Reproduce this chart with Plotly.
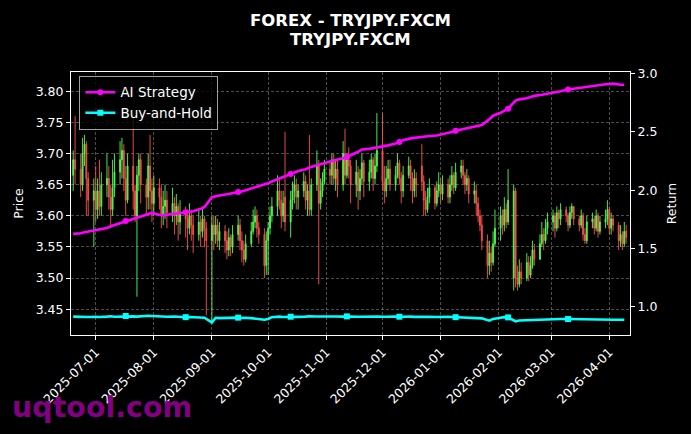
import pandas as pd
import plotly.graph_objects as go

# ---- data, one line per month ----
opens = [3.665, 3.690, 3.675, 3.650, 3.700, 3.715, 3.660, 3.625,
         3.640, 3.610, 3.640, 3.615, 3.650, 3.660, 3.630, 3.610, 3.645, 3.670, 3.690, 3.705, 3.660, 3.625, 3.680, 3.640, 3.600, 3.665, 3.690, 3.650, 3.630, 3.680, 3.640,
         3.620, 3.645, 3.630, 3.600, 3.615, 3.625, 3.605, 3.620, 3.600, 3.615, 3.590, 3.605, 3.595, 3.580, 3.600, 3.585, 3.570, 3.590, 3.575, 3.595, 3.580,
         3.560, 3.585, 3.570, 3.585, 3.560, 3.575, 3.560, 3.545, 3.565, 3.550, 3.570, 3.585, 3.560, 3.545, 3.530, 3.555, 3.575, 3.590, 3.600, 3.580, 3.570, 3.520,
         3.560, 3.580, 3.600, 3.615, 3.640, 3.625, 3.600, 3.630, 3.590, 3.625, 3.640, 3.650, 3.630, 3.640, 3.655, 3.625, 3.640, 3.610, 3.650, 3.680, 3.620, 3.640, 3.655,
         3.675, 3.665, 3.690, 3.660, 3.675, 3.650, 3.700, 3.665, 3.690, 3.680, 3.650, 3.670, 3.640, 3.660, 3.685, 3.655, 3.670, 3.690, 3.660, 3.680,
         3.705, 3.655, 3.640, 3.660, 3.675, 3.650, 3.665, 3.685, 3.660, 3.640, 3.665, 3.680, 3.660, 3.640, 3.660, 3.680, 3.655, 3.625, 3.610, 3.630, 3.645, 3.620, 3.640,
         3.650, 3.635, 3.650, 3.630, 3.650, 3.665, 3.645, 3.670, 3.680, 3.665, 3.650, 3.660, 3.635, 3.640, 3.620, 3.600, 3.585, 3.560, 3.520, 3.540, 3.525, 3.555,
         3.580, 3.600, 3.585, 3.610, 3.590, 3.500, 3.640, 3.500, 3.490, 3.510, 3.500, 3.525, 3.505, 3.520, 3.545, 3.530, 3.555, 3.570, 3.560, 3.580,
         3.590, 3.600, 3.580, 3.605, 3.595, 3.610, 3.600, 3.585, 3.605, 3.615, 3.595, 3.585, 3.600, 3.570, 3.560, 3.590, 3.595, 3.580, 3.600, 3.575, 3.590, 3.595,
         3.610, 3.580, 3.595, 3.585, 3.560, 3.570, 3.555, 3.575]
highs = [3.705, 3.760, 3.700, 3.725, 3.730, 3.720, 3.670, 3.660,
         3.680, 3.660, 3.690, 3.670, 3.700, 3.680, 3.650, 3.690, 3.700, 3.720, 3.725, 3.715, 3.680, 3.700, 3.765, 3.650, 3.680, 3.700, 3.700, 3.660, 3.700, 3.730, 3.660,
         3.665, 3.660, 3.650, 3.640, 3.650, 3.640, 3.645, 3.630, 3.635, 3.620, 3.625, 3.615, 3.610, 3.620, 3.610, 3.600, 3.610, 3.600, 3.615, 3.600, 3.590,
         3.600, 3.600, 3.600, 3.595, 3.590, 3.585, 3.575, 3.580, 3.570, 3.585, 3.600, 3.595, 3.575, 3.560, 3.570, 3.590, 3.610, 3.615, 3.610, 3.590, 3.580, 3.575,
         3.590, 3.615, 3.630, 3.665, 3.660, 3.640, 3.640, 3.735, 3.640, 3.655, 3.665, 3.660, 3.650, 3.670, 3.665, 3.650, 3.730, 3.660, 3.705, 3.690, 3.660, 3.670, 3.690,
         3.690, 3.700, 3.700, 3.690, 3.690, 3.720, 3.740, 3.700, 3.710, 3.690, 3.690, 3.680, 3.675, 3.700, 3.690, 3.690, 3.700, 3.695, 3.700, 3.765,
         3.765, 3.680, 3.680, 3.690, 3.690, 3.680, 3.700, 3.690, 3.670, 3.680, 3.695, 3.690, 3.670, 3.675, 3.670, 3.715, 3.665, 3.640, 3.645, 3.660, 3.650, 3.655, 3.670,
         3.660, 3.665, 3.660, 3.665, 3.680, 3.670, 3.685, 3.690, 3.690, 3.670, 3.675, 3.665, 3.655, 3.650, 3.630, 3.610, 3.600, 3.570, 3.560, 3.550, 3.575, 3.610,
         3.615, 3.610, 3.630, 3.620, 3.675, 3.650, 3.645, 3.520, 3.530, 3.525, 3.540, 3.535, 3.535, 3.560, 3.555, 3.570, 3.590, 3.580, 3.595, 3.605,
         3.610, 3.605, 3.615, 3.610, 3.620, 3.615, 3.605, 3.615, 3.620, 3.615, 3.600, 3.610, 3.605, 3.580, 3.600, 3.605, 3.600, 3.610, 3.605, 3.600, 3.610, 3.625,
         3.615, 3.605, 3.600, 3.590, 3.585, 3.575, 3.590, 3.585]
lows = [3.640, 3.650, 3.630, 3.640, 3.680, 3.600, 3.600, 3.550,
        3.590, 3.595, 3.600, 3.600, 3.630, 3.610, 3.580, 3.600, 3.630, 3.650, 3.660, 3.640, 3.600, 3.620, 3.610, 3.590, 3.470, 3.640, 3.620, 3.600, 3.610, 3.610, 3.590,
        3.600, 3.610, 3.580, 3.585, 3.595, 3.580, 3.590, 3.570, 3.585, 3.560, 3.570, 3.565, 3.545, 3.570, 3.560, 3.540, 3.560, 3.550, 3.565, 3.550, 3.440,
        3.428, 3.545, 3.555, 3.550, 3.545, 3.540, 3.530, 3.535, 3.535, 3.540, 3.560, 3.545, 3.525, 3.520, 3.525, 3.550, 3.570, 3.580, 3.565, 3.555, 3.500, 3.505,
        3.505, 3.570, 3.590, 3.600, 3.610, 3.580, 3.590, 3.575, 3.565, 3.610, 3.620, 3.610, 3.610, 3.630, 3.610, 3.600, 3.600, 3.600, 3.640, 3.490, 3.610, 3.630, 3.650,
        3.650, 3.650, 3.650, 3.640, 3.630, 3.640, 3.650, 3.660, 3.660, 3.620, 3.630, 3.610, 3.625, 3.650, 3.630, 3.640, 3.660, 3.640, 3.650, 3.670,
        3.640, 3.620, 3.630, 3.650, 3.640, 3.640, 3.660, 3.650, 3.620, 3.630, 3.660, 3.640, 3.620, 3.630, 3.630, 3.640, 3.600, 3.600, 3.605, 3.620, 3.610, 3.615, 3.630,
        3.620, 3.625, 3.620, 3.620, 3.640, 3.635, 3.640, 3.660, 3.650, 3.635, 3.640, 3.620, 3.620, 3.600, 3.590, 3.575, 3.545, 3.500, 3.505, 3.510, 3.520, 3.550,
        3.560, 3.570, 3.575, 3.580, 3.585, 3.480, 3.485, 3.480, 3.485, 3.490, 3.495, 3.495, 3.500, 3.515, 3.520, 3.535, 3.550, 3.545, 3.555, 3.570,
        3.575, 3.565, 3.575, 3.580, 3.585, 3.590, 3.575, 3.580, 3.595, 3.585, 3.575, 3.580, 3.560, 3.555, 3.555, 3.580, 3.570, 3.575, 3.565, 3.570, 3.580, 3.585,
        3.570, 3.570, 3.575, 3.545, 3.550, 3.545, 3.550, 3.555]
closes = [3.690, 3.675, 3.650, 3.700, 3.715, 3.660, 3.625, 3.640,
          3.610, 3.640, 3.615, 3.650, 3.660, 3.630, 3.610, 3.645, 3.670, 3.690, 3.705, 3.660, 3.625, 3.680, 3.640, 3.600, 3.665, 3.690, 3.650, 3.630, 3.680, 3.640, 3.620,
          3.645, 3.630, 3.600, 3.615, 3.625, 3.605, 3.620, 3.600, 3.615, 3.590, 3.605, 3.595, 3.580, 3.600, 3.585, 3.570, 3.590, 3.575, 3.595, 3.580, 3.560,
          3.585, 3.570, 3.585, 3.560, 3.575, 3.560, 3.545, 3.565, 3.550, 3.570, 3.585, 3.560, 3.545, 3.530, 3.555, 3.575, 3.590, 3.600, 3.580, 3.570, 3.520, 3.560,
          3.580, 3.600, 3.615, 3.640, 3.625, 3.600, 3.620, 3.590, 3.625, 3.640, 3.650, 3.630, 3.640, 3.655, 3.625, 3.640, 3.610, 3.650, 3.680, 3.620, 3.640, 3.655, 3.675,
          3.665, 3.690, 3.660, 3.675, 3.650, 3.700, 3.665, 3.690, 3.680, 3.650, 3.670, 3.640, 3.660, 3.685, 3.655, 3.670, 3.690, 3.660, 3.680, 3.705,
          3.655, 3.640, 3.660, 3.675, 3.650, 3.665, 3.685, 3.660, 3.640, 3.665, 3.680, 3.660, 3.640, 3.660, 3.650, 3.655, 3.625, 3.610, 3.630, 3.645, 3.620, 3.640, 3.650,
          3.635, 3.650, 3.630, 3.650, 3.665, 3.645, 3.670, 3.680, 3.665, 3.650, 3.660, 3.635, 3.640, 3.620, 3.600, 3.585, 3.560, 3.520, 3.540, 3.525, 3.555, 3.580,
          3.600, 3.585, 3.610, 3.590, 3.625, 3.640, 3.500, 3.490, 3.510, 3.500, 3.525, 3.505, 3.520, 3.545, 3.530, 3.555, 3.570, 3.560, 3.580, 3.590,
          3.600, 3.580, 3.605, 3.595, 3.610, 3.600, 3.585, 3.605, 3.615, 3.595, 3.585, 3.600, 3.570, 3.560, 3.590, 3.595, 3.580, 3.600, 3.575, 3.590, 3.595, 3.610,
          3.580, 3.595, 3.585, 3.560, 3.570, 3.555, 3.575, 3.565]

# return curves, one value every second business day
strategy = [1.625, 1.630, 1.640, 1.645, 1.655, 1.660, 1.675, 1.690, 1.700, 1.720,
            1.735, 1.750, 1.760, 1.770, 1.790, 1.805, 1.790, 1.785, 1.790, 1.800,
            1.805, 1.810, 1.815, 1.820, 1.840, 1.855, 1.940, 1.950, 1.955, 1.965,
            1.970, 1.985, 1.990, 2.000, 2.020, 2.030, 2.045, 2.060, 2.075, 2.100,
            2.115, 2.140, 2.150, 2.165, 2.180, 2.195, 2.215, 2.225, 2.235, 2.250,
            2.260, 2.275, 2.285, 2.300, 2.330, 2.350, 2.355, 2.360, 2.370, 2.375,
            2.385, 2.400, 2.415, 2.430, 2.445, 2.450, 2.455, 2.460, 2.465, 2.470,
            2.476, 2.490, 2.500, 2.510, 2.525, 2.530, 2.545, 2.550, 2.560, 2.610,
            2.640, 2.665, 2.685, 2.700, 2.770, 2.780, 2.790, 2.800, 2.810, 2.820,
            2.825, 2.835, 2.840, 2.850, 2.865, 2.870, 2.880, 2.885, 2.890, 2.895,
            2.900, 2.910, 2.912, 2.915, 2.905, 2.905]
buy_hold = [0.915, 0.912, 0.910, 0.912, 0.914, 0.912, 0.915, 0.918, 0.914, 0.916,
            0.920, 0.917, 0.915, 0.918, 0.922, 0.920, 0.915, 0.912, 0.914, 0.916,
            0.913, 0.910, 0.912, 0.910, 0.908, 0.905, 0.865, 0.905, 0.902, 0.905,
            0.904, 0.906, 0.903, 0.905, 0.900, 0.895, 0.888, 0.895, 0.910, 0.915,
            0.912, 0.914, 0.916, 0.913, 0.915, 0.918, 0.916, 0.917, 0.915, 0.914,
            0.916, 0.915, 0.917, 0.916, 0.914, 0.915, 0.917, 0.916, 0.915, 0.914,
            0.916, 0.915, 0.914, 0.916, 0.915, 0.913, 0.915, 0.916, 0.914, 0.912,
            0.914, 0.913, 0.912, 0.910, 0.908, 0.906, 0.905, 0.904, 0.900, 0.880,
            0.895, 0.905, 0.910, 0.908, 0.875, 0.882, 0.885, 0.886, 0.888, 0.890,
            0.892, 0.894, 0.895, 0.895, 0.894, 0.893, 0.892, 0.891, 0.890, 0.890,
            0.889, 0.889, 0.888, 0.888, 0.888, 0.888]
marker_idx = [10, 21, 31, 41, 52, 62, 73, 83, 94]

n = min(len(opens), len(highs), len(lows), len(closes))
dates = pd.bdate_range("2025-06-19", periods=n)
rdates = pd.bdate_range("2025-06-19", periods=len(strategy), freq="2B")

# ---- figure ----
MAG = "#ff00ff"
CYA = "#00ffff"
FONT = "DejaVu Sans"
GRID = "rgba(128,128,128,0.6)"
DASH = "3px,2px"

fig = go.Figure()
fig.add_trace(go.Candlestick(
    x=dates, open=opens[:n], high=highs[:n], low=lows[:n], close=closes[:n],
    increasing=dict(line=dict(color="rgba(80,255,80,0.9)", width=1), fillcolor="rgba(80,255,80,0.9)"),
    decreasing=dict(line=dict(color="rgba(255,80,80,0.9)", width=1), fillcolor="rgba(255,80,80,0.9)"),
    whiskerwidth=0, showlegend=False, hoverinfo="skip", yaxis="y"))

mx = [rdates[i] for i in marker_idx]
for name, vals, col, sym in [("AI Strategy", strategy, MAG, "circle"),
                             ("Buy-and-Hold", buy_hold, CYA, "square")]:
    fig.add_trace(go.Scatter(x=rdates, y=vals, mode="lines", yaxis="y2",
                             line=dict(color=col, width=2.6), showlegend=False, hoverinfo="skip"))
    fig.add_trace(go.Scatter(x=mx, y=[vals[i] for i in marker_idx], mode="markers", yaxis="y2",
                             marker=dict(color=col, size=6, symbol=sym), showlegend=False, hoverinfo="skip"))
    fig.add_trace(go.Scatter(x=[None], y=[None], mode="lines+markers", yaxis="y2", name=name,
                             line=dict(color=col, width=2.6), marker=dict(color=col, size=6, symbol=sym)))

fig.update_layout(
    width=691, height=434,
    margin=dict(l=71, r=61, t=72, b=99, autoexpand=False),
    paper_bgcolor="black", plot_bgcolor="black",
    font=dict(family=FONT, color="white", size=12.5),
    xaxis=dict(type="date", range=["2025-06-17 19:40", "2026-04-12 01:00"], automargin=False,
               rangeslider=dict(visible=False),
               tick0="2025-07-01", dtick="M1", tickformat="%Y-%m-%d", tickangle=-45,
               ticks="outside", ticklen=4, tickcolor="white",
               showline=True, linecolor="white", linewidth=1, mirror=True,
               showgrid=True, gridcolor=GRID, griddash=DASH, gridwidth=0.7,
               zeroline=False, tickfont=dict(size=12.5)),
    yaxis=dict(range=[3.4085, 3.831], tickvals=[3.45, 3.50, 3.55, 3.60, 3.65, 3.70, 3.75, 3.80],
               tickformat=".2f", ticks="outside", ticklen=4, tickcolor="white", automargin=False,
               showline=True, linecolor="white", linewidth=1, mirror=True,
               showgrid=True, gridcolor=GRID, griddash=DASH, gridwidth=0.7,
               zeroline=False, title=dict(text="Price", font=dict(size=12.5), standoff=9)),
    yaxis2=dict(range=[0.757, 3.015], tickvals=[1.0, 1.5, 2.0, 2.5, 3.0], tickformat=".1f",
                overlaying="y", side="right", ticks="outside", ticklen=4, tickcolor="white",
                automargin=False,
                showline=True, linecolor="white", linewidth=1, showgrid=False, zeroline=False,
                title=dict(text="Return", font=dict(size=12.5), standoff=10)),
    legend=dict(x=0.015, y=0.985, xanchor="left", yanchor="top",
                bgcolor="rgba(0,0,0,0.8)", bordercolor="rgba(200,200,200,0.8)", borderwidth=1,
                font=dict(size=13.5, color="white"), tracegroupgap=0, itemwidth=30),
    annotations=[
        dict(text="<b>FOREX - TRYJPY.FXCM</b>", xref="paper", yref="paper", x=0.5, y=1.1977,
             xanchor="center", yanchor="middle", showarrow=False,
             font=dict(family=FONT, size=16.5, color="white")),
        dict(text="<b>TRYJPY.FXCM</b>", xref="paper", yref="paper", x=0.5, y=1.1217,
             xanchor="center", yanchor="middle", showarrow=False,
             font=dict(family=FONT, size=16.5, color="white")),
        dict(text="<b>uqtool.com</b>", xref="paper", yref="paper",
             x=-0.109, y=-0.277, xanchor="left", yanchor="middle", showarrow=False,
             font=dict(family=FONT, size=28.5, color="rgba(140,0,140,0.95)")),
    ],
)

fig.write_html("out.html", config={"displayModeBar": False},
               post_script="document.body.style.margin='0';")
